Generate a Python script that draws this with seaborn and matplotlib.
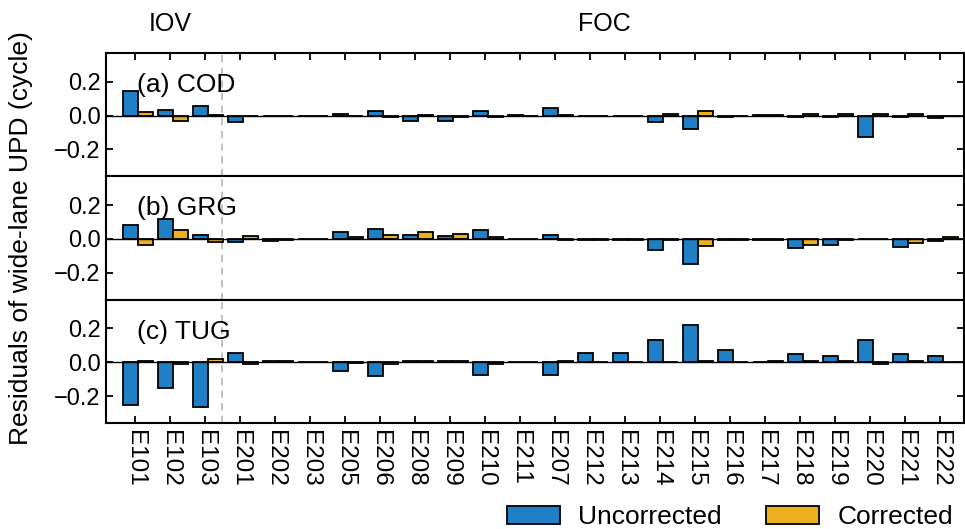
import numpy as np
import pandas as pd
import matplotlib
matplotlib.use("Agg")
import matplotlib.pyplot as plt
import seaborn as sns
from matplotlib.patches import Patch

# satellites in plotting order
sats = ["E101", "E102", "E103", "E201", "E202", "E203", "E205", "E206",
        "E208", "E209", "E210", "E211", "E207", "E212", "E213", "E214",
        "E215", "E216", "E217", "E218", "E219", "E220", "E221", "E222"]

# residuals of wide-lane UPD (cycle)
cod_unc = [0.145, 0.034, 0.055, -0.040, 0.0, 0.0, 0.010, 0.025, -0.030, -0.030, 0.025, 0.003,
           0.045, -0.005, 0.0, -0.040, -0.080, -0.008, 0.005, -0.008, -0.008, -0.125, -0.008, -0.012]
cod_cor = [0.022, -0.030, 0.002, -0.005, 0.0, 0.0, -0.005, -0.008, 0.002, -0.010, -0.008, 0.0,
           0.002, -0.005, 0.0, 0.012, 0.025, -0.003, 0.005, 0.008, 0.008, 0.008, 0.008, -0.005]
grg_unc = [0.082, 0.118, 0.025, -0.020, -0.010, 0.0, 0.043, 0.060, 0.025, 0.020, 0.053, 0.0,
           0.022, -0.008, -0.008, -0.065, -0.145, -0.008, -0.005, -0.055, -0.035, 0.0, -0.045, -0.010]
grg_cor = [-0.035, 0.050, -0.020, 0.020, -0.008, 0.0, 0.012, 0.025, 0.040, 0.030, 0.010, 0.0,
           -0.008, -0.008, -0.008, -0.008, -0.040, -0.008, -0.005, -0.033, -0.008, 0.0, -0.025, 0.012]
tug_unc = [-0.250, -0.152, -0.265, 0.057, 0.008, 0.0, -0.053, -0.083, 0.008, 0.008, -0.073, 0.0,
           -0.077, 0.057, 0.057, 0.130, 0.220, 0.071, 0.003, 0.050, 0.040, 0.130, 0.050, 0.040]
tug_cor = [0.008, -0.008, 0.018, -0.010, 0.008, 0.0, -0.005, -0.008, 0.008, 0.008, -0.008, 0.0,
           0.008, 0.0, 0.0, 0.0, 0.008, 0.0, 0.008, 0.008, 0.008, -0.010, 0.008, 0.0]

panels = [("(a) COD", cod_unc, cod_cor),
          ("(b) GRG", grg_unc, grg_cor),
          ("(c) TUG", tug_unc, tug_cor)]

colors = {"Uncorrected": "#1f80c6", "Corrected": "#ebb11f"}

sns.set_theme(style="ticks")
plt.rcParams["font.family"] = ["Liberation Sans", "DejaVu Sans"]
for key in ["text.color", "axes.labelcolor", "xtick.color", "ytick.color", "axes.edgecolor"]:
    plt.rcParams[key] = "black"

fig, axes = plt.subplots(3, 1, figsize=(9.65, 5.29), dpi=100, sharex=True)
fig.subplots_adjust(left=0.1098, right=0.999, top=0.9, bottom=0.2004, hspace=0)

for i, (ax, (label, unc, cor)) in enumerate(zip(axes, panels)):
    df = pd.DataFrame({
        "sat": sats * 2,
        "value": unc + cor,
        "type": ["Uncorrected"] * len(sats) + ["Corrected"] * len(sats),
    })
    sns.barplot(data=df, x="sat", y="value", hue="type", order=sats,
                hue_order=["Uncorrected", "Corrected"], palette=colors,
                saturation=1, width=0.86, edgecolor="black", linewidth=1.3,
                errorbar=None, legend=False, ax=ax)
    # bars sit slightly right of the tick in the original
    for p in ax.patches:
        p.set_x(p.get_x() + 0.08)
    ax.axhline(0, color="black", lw=1.0, zorder=1)
    ax.axvline(2.5, color="#bbbbbb", ls=(0, (4, 3)), lw=1.3, zorder=0)
    ax.set_ylim(-0.358, 0.37)
    ax.set_xlim(-0.83, 23.69)
    ax.set_yticks([-0.2, 0.0, 0.2])
    ax.set_yticklabels(["\u22120.2", "0.0", "0.2"])
    ax.set_xlabel("")
    ax.set_ylabel("")
    ax.text(0.036, 0.74, label, transform=ax.transAxes, fontsize=19,
            ha="left", va="center")
    for s in ax.spines.values():
        s.set_linewidth(1.5)
    ax.tick_params(axis="y", direction="in", left=True, right=True,
                   length=5, width=1.3, labelsize=17, pad=4)
    if i == 0:
        ax.tick_params(axis="x", direction="in", top=True, bottom=False,
                       labelbottom=False, length=5, width=1.3)
    elif i == 1:
        ax.tick_params(axis="x", top=False, bottom=False, labelbottom=False)
    else:
        ax.tick_params(axis="x", direction="in", top=False, bottom=True,
                       length=5, width=1.3, labelsize=17.5, rotation=270, pad=5)

axes[0].text(1, 1.235, "IOV", transform=axes[0].get_xaxis_transform(),
             fontsize=18, ha="center", va="center")
axes[0].text(13.4, 1.235, "FOC", transform=axes[0].get_xaxis_transform(),
             fontsize=18, ha="center", va="center")

fig.text(0.022, 0.55, "Residuals of wide-lane UPD (cycle)", rotation=90,
         fontsize=19, ha="center", va="center")

handles = [Patch(facecolor=colors[k], edgecolor="black", linewidth=1.3, label=k)
           for k in ["Uncorrected", "Corrected"]]
fig.legend(handles=handles, loc="center", bbox_to_anchor=(0.7565, 0.022), ncol=2,
           frameon=False, fontsize=19, handlelength=2.0, handleheight=0.7,
           columnspacing=1.67, handletextpad=0.7)

fig.savefig("out.png", dpi=100)
